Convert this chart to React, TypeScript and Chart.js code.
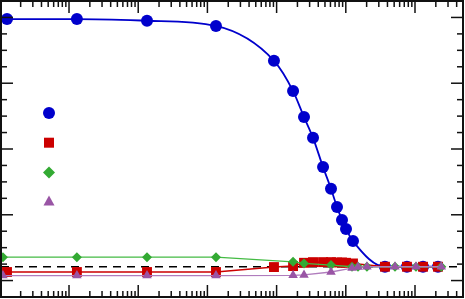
import React, { useEffect, useRef } from 'react';
import { Chart, registerables } from 'chart.js';
Chart.register(...registerables);

// x positions (log scale) shared by blue and red series
const X_AB = [0.00127, 0.013, 0.134, 1.33, 9.16, 17.3, 24.9, 33.6, 46.9, 61.1, 74.6, 88.1, 100.7, 127, 368, 765, 1306, 2148];
const BLUE_Y = [79.5, 79.5, 79.0, 77.4, 66.8, 57.6, 49.7, 43.4, 34.5, 27.9, 22.4, 18.4, 15.7, 12.0, 4.2, 4.2, 4.2, 4.2];
const RED_Y = [2.6, 2.6, 2.6, 2.6, 4.1, 4.4, 5.4, 5.6, 5.6, 5.6, 5.5, 5.5, 5.4, 5.2, 4.2, 4.2, 4.2, 4.2];

// x positions shared by green and purple series
const X_CD = [0.00111, 0.013, 0.134, 1.33, 17.3, 24.9, 61.1, 123, 150, 202, 514, 1033, 2400];
const GREEN_Y = [7.1, 7.1, 7.1, 7.1, 5.7, 5.2, 4.7, 4.2, 4.2, 4.2, 4.2, 4.2, 4.2];
const PURPLE_Y = [1.5, 1.5, 1.5, 1.5, 1.6, 1.7, 2.6, 3.8, 4.1, 4.2, 4.2, 4.2, 4.2];

const BASELINE = 4.2;
const X_MIN = 0.00104;
const X_MAX = 4940;
const Y_MIN = -5;
const Y_MAX = 85;
const Y_MINOR = 5;
const Y_MAJOR = 20;

const C_BLUE = '#0000cc';
const C_RED = '#cc0000';
const C_GREEN = '#33aa33';
const C_GREEN_LINE = '#44bb44';
const C_PURPLE = '#9955a5';
const C_PURPLE_LINE = '#b07cbd';

function pts(xs: number[], ys: number[]) {
  return xs.map((x, i) => ({ x, y: ys[i] }));
}

const baselinePlugin = {
  id: 'baseline',
  beforeDatasetsDraw(chart: any) {
    const { ctx, chartArea: a, scales } = chart;
    const py = scales.y.getPixelForValue(BASELINE);
    ctx.save();
    ctx.strokeStyle = '#000';
    ctx.lineWidth = 1.5;
    ctx.setLineDash([8, 6]);
    ctx.beginPath();
    ctx.moveTo(a.left, py);
    ctx.lineTo(a.right, py);
    ctx.stroke();
    ctx.restore();
  },
};

function drawMarker(ctx: CanvasRenderingContext2D, kind: string, x: number, y: number, color: string) {
  ctx.fillStyle = color;
  ctx.beginPath();
  if (kind === 'circle') {
    ctx.arc(x, y, 6, 0, Math.PI * 2);
  } else if (kind === 'rect') {
    ctx.rect(x - 5, y - 5, 10, 10);
  } else if (kind === 'diamond') {
    ctx.moveTo(x - 6, y);
    ctx.lineTo(x, y - 6);
    ctx.lineTo(x + 6, y);
    ctx.lineTo(x, y + 6);
    ctx.closePath();
  } else {
    ctx.moveTo(x, y - 6.5);
    ctx.lineTo(x + 5.5, y + 3.5);
    ctx.lineTo(x - 5.5, y + 3.5);
    ctx.closePath();
  }
  ctx.fill();
}

const LEGEND = [
  { kind: 'circle', color: C_BLUE },
  { kind: 'rect', color: C_RED },
  { kind: 'diamond', color: C_GREEN },
  { kind: 'triangle', color: C_PURPLE },
];

const framePlugin = {
  id: 'frameTicks',
  afterDraw(chart: any) {
    const { ctx, chartArea: a, scales } = chart;
    const xs = scales.x;
    const ys = scales.y;
    ctx.save();
    ctx.strokeStyle = '#111';
    ctx.lineWidth = 1.5;
    const line = (x1: number, y1: number, x2: number, y2: number) => {
      ctx.beginPath();
      ctx.moveTo(x1, y1);
      ctx.lineTo(x2, y2);
      ctx.stroke();
    };
    for (let v = Y_MIN; v <= Y_MAX; v += Y_MINOR) {
      const py = ys.getPixelForValue(v);
      if (py <= a.top + 1 || py >= a.bottom - 1) continue;
      const len = v % Y_MAJOR === 0 ? 12 : 6;
      line(a.left, py, a.left + len, py);
      line(a.right, py, a.right - len, py);
    }
    for (let e = -4; e <= 4; e++) {
      for (let m = 1; m <= 9; m++) {
        const v = m * Math.pow(10, e);
        if (v <= X_MIN || v >= X_MAX) continue;
        const px = xs.getPixelForValue(v);
        const len = m === 1 ? 12 : 6;
        line(px, a.top, px, a.top + len);
        line(px, a.bottom, px, a.bottom - len);
      }
    }
    ctx.lineWidth = 2;
    ctx.strokeRect(a.left, a.top, a.right - a.left, a.bottom - a.top);
    // legend markers (no labels in the reference)
    LEGEND.forEach((l, i) => {
      drawMarker(ctx, l.kind, a.left + 48, a.top + 112 + i * 29.7, l.color);
    });
    ctx.restore();
  },
};

export default function App() {
  const ref = useRef<HTMLCanvasElement>(null);
  useEffect(() => {
    if (!ref.current) return;
    const chart = new Chart(ref.current, {
      type: 'line',
      data: {
        datasets: [
          {
            data: pts(X_AB, BLUE_Y),
            borderColor: C_BLUE,
            backgroundColor: C_BLUE,
            borderWidth: 1.8,
            pointStyle: 'circle',
            pointRadius: 6,
            pointBorderWidth: 0,
            cubicInterpolationMode: 'monotone',
            order: 4,
          },
          {
            data: pts(X_AB, RED_Y),
            borderColor: C_RED,
            backgroundColor: C_RED,
            borderWidth: 1.5,
            pointStyle: 'rect',
            pointRadius: 7,
            pointBorderWidth: 0,
            order: 3,
          },
          {
            data: pts(X_CD, GREEN_Y),
            borderColor: C_GREEN_LINE,
            backgroundColor: C_GREEN,
            pointBorderColor: C_GREEN,
            borderWidth: 1.3,
            pointStyle: 'rectRot',
            pointRadius: 5,
            pointBorderWidth: 0,
            order: 2,
          },
          {
            data: pts(X_CD, PURPLE_Y),
            borderColor: C_PURPLE_LINE,
            backgroundColor: C_PURPLE,
            pointBorderColor: C_PURPLE,
            borderWidth: 1.3,
            pointStyle: 'triangle',
            pointRadius: 5.5,
            pointBorderWidth: 0,
            order: 1,
          },
        ],
      },
      options: {
        animation: false,
        responsive: false,
        maintainAspectRatio: false,
        layout: { autoPadding: false, padding: { left: 1, top: 1, right: 2, bottom: 2 } },
        plugins: { legend: { display: false }, tooltip: { enabled: false } },
        scales: {
          x: { type: 'logarithmic', min: X_MIN, max: X_MAX, display: false },
          y: { type: 'linear', min: Y_MIN, max: Y_MAX, display: false },
        },
      },
      plugins: [baselinePlugin, framePlugin],
    } as any);
    return () => chart.destroy();
  }, []);
  return (
    <div style={{ position: 'fixed', left: 0, top: 0, width: 465, height: 299, background: '#fff' }}>
      <canvas ref={ref} width={465} height={299} style={{ display: 'block', width: 465, height: 299 }} />
    </div>
  );
}
